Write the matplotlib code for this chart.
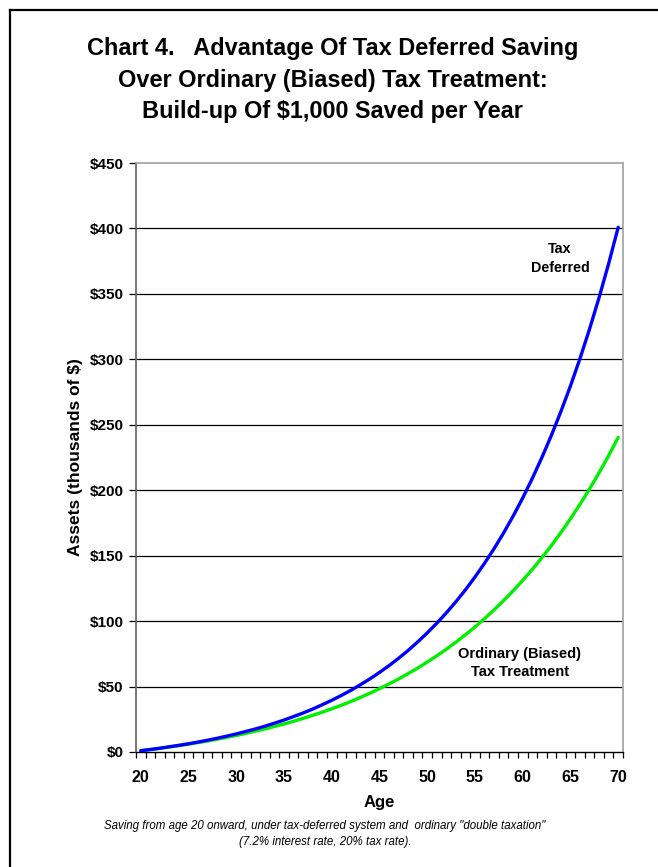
import matplotlib
matplotlib.use("Agg")
import matplotlib.pyplot as plt
from matplotlib.lines import Line2D

plt.rcParams['font.family'] = ['Liberation Sans', 'DejaVu Sans']

ages = list(range(20, 71))
tax_deferred = [1.0, 1.9, 2.9, 4.0, 5.1, 6.3, 7.6, 9.0, 10.5, 12.1,
                13.8, 15.7, 17.6, 19.7, 22.0, 24.4, 27.1, 29.8, 32.8, 36.1,
                39.5, 43.2, 47.1, 51.4, 55.9, 60.8, 66.0, 71.6, 77.6, 84.1,
                91.0, 98.4, 106.3, 114.8, 123.9, 133.7, 144.2, 155.4, 167.4, 180.3,
                194.1, 209.0, 224.9, 241.9, 260.2, 279.7, 300.7, 323.2, 347.3, 373.2,
                400.9]
ordinary = [1.0, 1.9, 2.8, 3.8, 4.9, 6.0, 7.2, 8.4, 9.8, 11.2,
            12.6, 14.2, 15.9, 17.6, 19.5, 21.4, 23.5, 25.7, 28.0, 30.4,
            33.0, 35.7, 38.6, 41.7, 44.9, 48.4, 52.0, 55.8, 59.9, 64.1,
            68.7, 73.5, 78.5, 83.9, 89.6, 95.5, 101.9, 108.6, 115.7, 123.2,
            131.1, 139.5, 148.4, 157.7, 167.7, 178.2, 189.3, 201.0, 213.4, 226.5,
            240.4]
y_ticks = [0, 50, 100, 150, 200, 250, 300, 350, 400, 450]
y_labels = ["$0", "$50", "$100", "$150", "$200", "$250", "$300", "$350", "$400", "$450"]
x_labels = [20, 25, 30, 35, 40, 45, 50, 55, 60, 65, 70]

W, H = 658, 867
fig = plt.figure(figsize=(W / 100, H / 100), dpi=100)
fig.patch.set_facecolor('white')

ax = fig.add_axes([136 / W, 1 - 752 / H, 487 / W, 589 / H])
ax.set_xlim(19.5, 70.5)
ax.set_ylim(0, 450)

for v in y_ticks[1:-1]:
    ax.axhline(v, color='#000000', lw=0.9, zorder=1)

ax.plot(ages, tax_deferred, color='#0000FF', lw=2.4, solid_capstyle='round', zorder=3)
ax.plot(ages, ordinary, color='#00F000', lw=2.4, solid_capstyle='round', zorder=2)

ax.set_yticks(y_ticks)
ax.set_yticklabels(y_labels, fontsize=11, fontweight='bold')
ax.set_xticks(x_labels)
ax.set_xticklabels([str(v) for v in x_labels], fontsize=11.5, fontweight='bold')
ax.tick_params(axis='x', length=0, pad=13)
ax.tick_params(axis='y', length=5, width=0.9, color='#000000', pad=4)
ax.set_xticks([a + 0.5 for a in [19] + ages], minor=True)
ax.tick_params(axis='x', which='minor', length=4.5, width=0.9, color='#000000', direction='out')

for s in ['top', 'right']:
    ax.spines[s].set_color('#A0A0A0')
    ax.spines[s].set_linewidth(1.2)
ax.spines['left'].set_color('#606060')
ax.spines['left'].set_linewidth(1.2)
ax.spines['bottom'].set_color('#000000')
ax.spines['bottom'].set_linewidth(1.0)

ax.set_xlabel("Age", fontsize=12, fontweight='bold', labelpad=7)
ax.set_ylabel("Assets (thousands of $)", fontsize=12.5, fontweight='bold', labelpad=5)

ax.text(63.9, 377, "Tax\nDeferred", ha='center', va='center', fontsize=10.3,
        fontweight='bold', linespacing=1.45)
ax.text(59.7, 68, "Ordinary (Biased)\nTax Treatment", ha='center', va='center',
        fontsize=10.5, fontweight='bold', linespacing=1.35)

fig.text(332.5 / W, 1 - 80 / H,
         "Chart 4.   Advantage Of Tax Deferred Saving\nOver Ordinary (Biased) Tax Treatment:\nBuild-up Of $1,000 Saved per Year",
         ha='center', va='center', fontsize=16.9, fontweight='bold', linespacing=1.49)

fig.text(325 / W, 1 - 834 / H,
         "Saving from age 20 onward, under tax-deferred system and  ordinary \"double taxation\"\n(7.2% interest rate, 20% tax rate).",
         ha='center', va='center', fontsize=8.3, style='italic', linespacing=1.4)

# outer frame (top and left edges)
fig.add_artist(Line2D([10 / W, 1.0], [1 - 10 / H, 1 - 10 / H], color='black', lw=1.6,
                      transform=fig.transFigure))
fig.add_artist(Line2D([10 / W, 10 / W], [1 - 10 / H, 0.0], color='black', lw=1.6,
                      transform=fig.transFigure))

fig.savefig("out.png", dpi=100)
